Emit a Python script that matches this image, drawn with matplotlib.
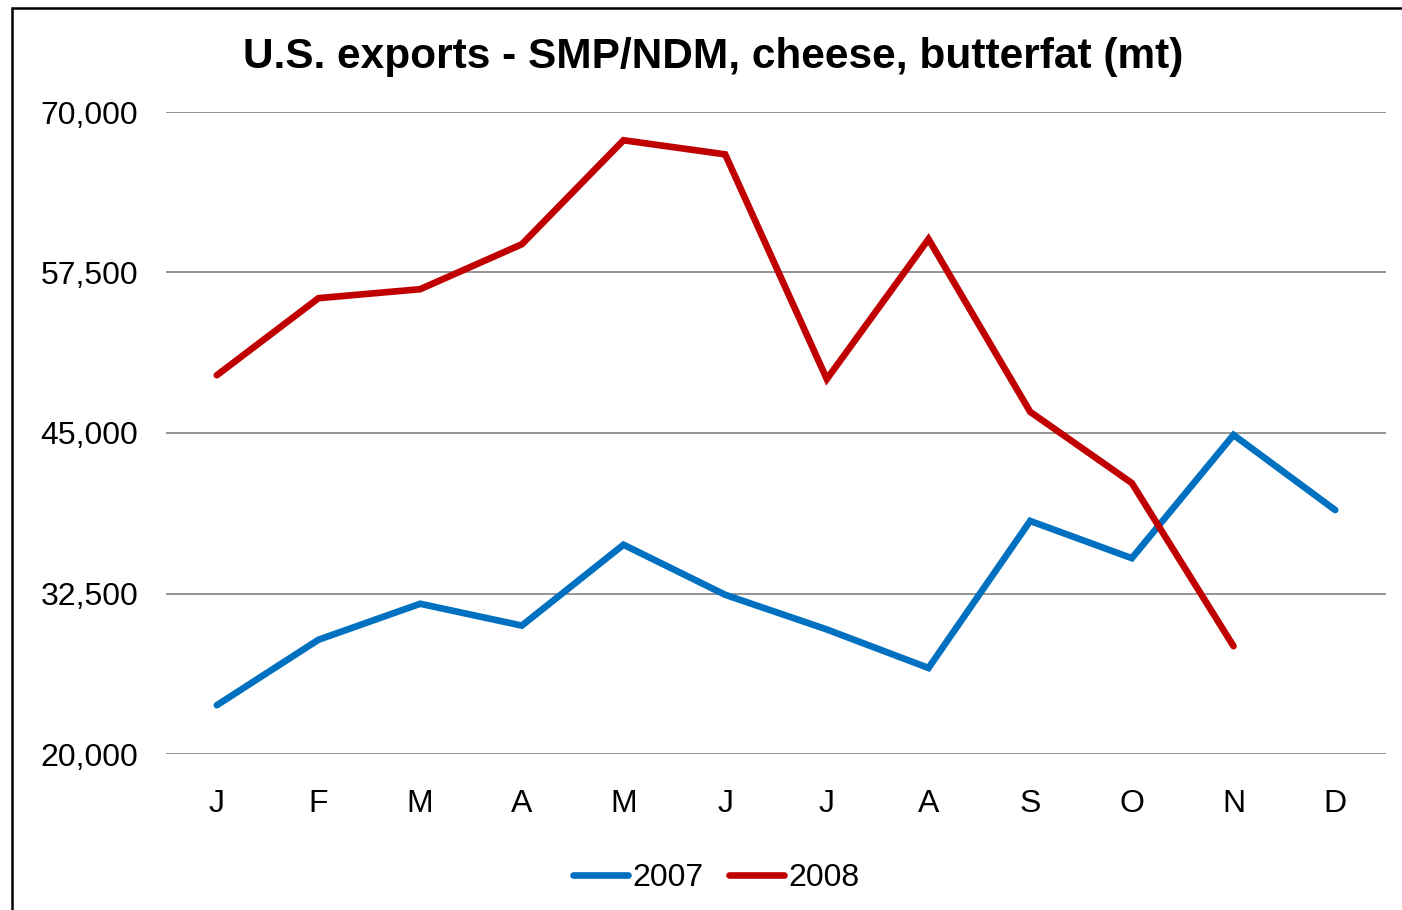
import matplotlib.pyplot as plt
from matplotlib.patches import Rectangle

plt.rcParams['font.family'] = ['Liberation Sans', 'DejaVu Sans']

months = ['J', 'F', 'M', 'A', 'M', 'J', 'J', 'A', 'S', 'O', 'N', 'D']
exp_2007 = [23800, 28900, 31700, 30000, 36300, 32400, 29700, 26700, 38150, 35250, 44850, 39000]
exp_2008 = [49500, 55500, 56200, 59700, 67800, 66700, 49200, 60100, 46650, 41100, 28400]
yticks = [20000, 32500, 45000, 57500, 70000]

fig = plt.figure(figsize=(14.02, 9.10), dpi=100)
ax = fig.add_axes([166/1402, 156/910, 1220/1402, 642/910])

x = list(range(len(months)))
ax.plot(x, exp_2007, color='#0070c0', lw=4.8, solid_capstyle='round', solid_joinstyle='miter', label='2007')
ax.plot(x[:len(exp_2008)], exp_2008, color='#c00000', lw=4.8, solid_capstyle='round', solid_joinstyle='miter', label='2008')

ax.set_xlim(-0.5, 11.5)
ax.set_ylim(20000, 70000)
ax.set_yticks(yticks)
ax.set_yticklabels([f'{v:,}' for v in yticks])
ax.set_xticks(x)
ax.set_xticklabels(months)
ax.tick_params(axis='both', length=0, labelsize=23)
ax.tick_params(axis='y', pad=20)
ax.tick_params(axis='x', pad=25)
ax.grid(axis='y', color='#8c8c8c', lw=1.3)
ax.set_axisbelow(True)
for s in ax.spines.values():
    s.set_visible(False)

fig.text(0.509, 0.937, 'U.S. exports - SMP/NDM, cheese, butterfat (mt)', ha='center', va='center',
         fontsize=30.5, fontweight='bold')

leg = fig.legend(loc='center', bbox_to_anchor=(0.511, 0.035), ncol=2, frameon=False, fontsize=23,
                 handlelength=1.7, handletextpad=0.15, columnspacing=0.8)
for h in leg.get_lines():
    h.set_solid_capstyle('round')

fig.patches.append(Rectangle((12/1402, -0.1), 1.2, 1 - 8/910 + 0.1, transform=fig.transFigure,
                             fill=False, edgecolor='black', lw=1.8))

plt.savefig('out.png', dpi=100)
